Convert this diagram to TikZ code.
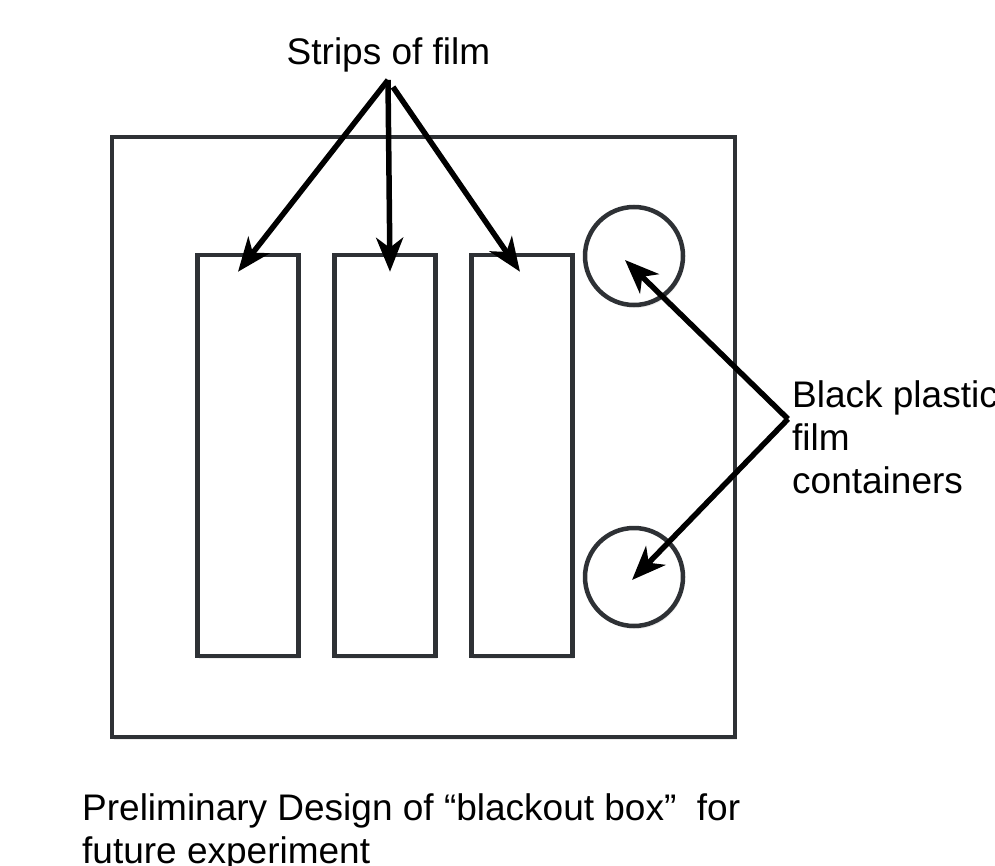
\documentclass[tikz,border=0pt]{standalone}
\usepackage{fontspec}
\setmainfont{Liberation Sans}
\usetikzlibrary{arrows.meta, positioning, calc, shadows}
\definecolor{boxgray}{HTML}{2E3135}

\begin{document}
\begin{tikzpicture}[
    x=1pt, y=-1pt,
    node distance=31.5pt,
    outline/.style={draw=boxgray, line width=4.5pt, fill=white, inner sep=0pt, drop shadow={opacity=0.15, shadow xshift=1.5pt, shadow yshift=-3pt}},
    strip/.style={outline, minimum width=101pt, minimum height=401pt},
    container/.style={outline, circle, minimum size=98pt},
    label/.style={font=\fontsize{37}{43}\selectfont, inner sep=0pt, align=left},
    arrow/.style={-{Stealth[length=34pt, width=27pt, inset=10pt]}, line width=5.5pt}
]

\useasboundingbox (0,0) rectangle (995,866);

\node[outline, minimum width=623pt, minimum height=600pt] (box) at (423.5,437) {};
\node[strip] (strip1) at (248,455.5) {};
\node[strip, right=of strip1] (strip2) {};
\node[strip, right=of strip2] (strip3) {};
\node[container] (conttop) at (634,256) {};
\node[container] (contbottom) at (634,577) {};

\node[label, anchor=base] (stripslabel) at (388.5,65) {Strips of film};
\node[label, anchor=north west] (contlabel) at (792,380.5) {Black plastic\\film\\containers};
\node[label, anchor=north west] (caption) at (82,793) {Preliminary Design of “blackout box”\ \ for\\future experiment};

\coordinate (stripsapex) at (388,80);
\coordinate (contapex) at (788,419);

\draw[arrow] (stripsapex) -- ($(strip1.north)+(-10,19)$);
\draw[arrow] (stripsapex) -- ($(strip2.north)+(5,19)$);
\draw[arrow] ($(stripsapex)+(5,7)$) -- ($(strip3.north)+(-2,19)$);
\draw[arrow] (contapex) -- ($(conttop.center)+(-9,4)$);
\draw[arrow] (contapex) -- ($(contbottom.center)+(-2,3)$);

\end{tikzpicture}
\end{document}
